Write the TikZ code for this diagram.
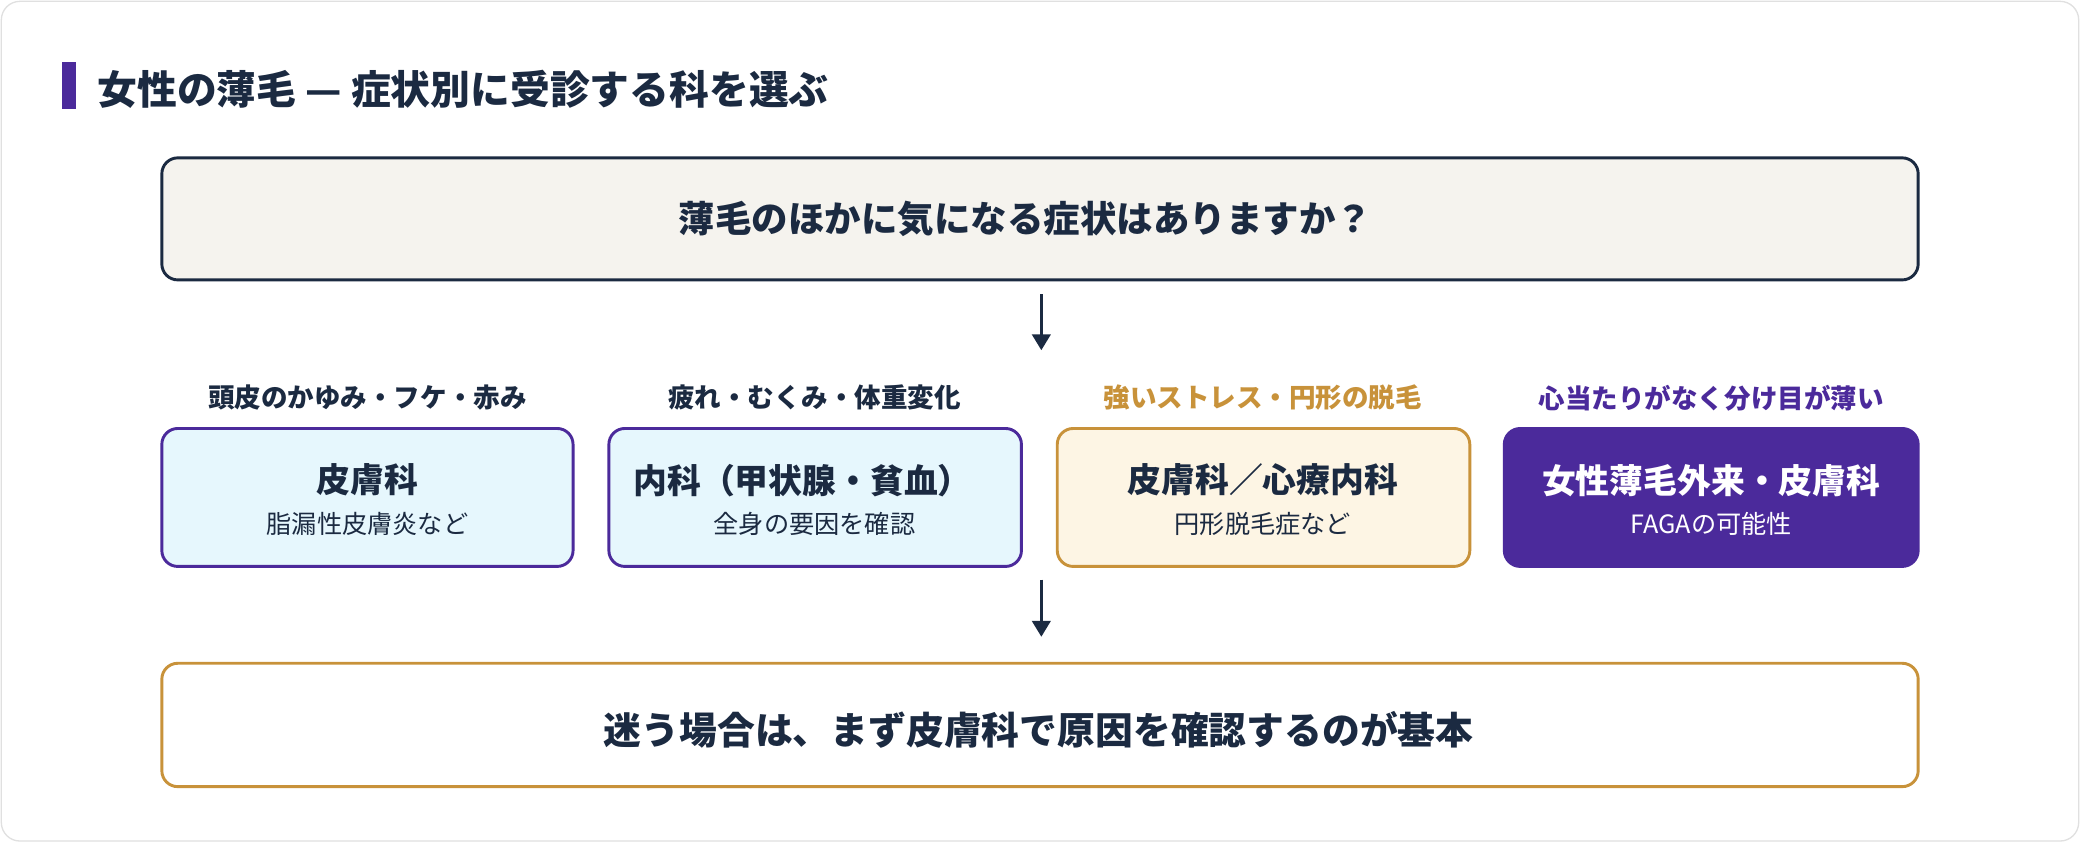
\documentclass[tikz,border=0pt]{standalone}
\usepackage{fontspec}
\setmainfont{Noto Sans CJK JP}
\usetikzlibrary{arrows.meta}
\definecolor{navy}{HTML}{1B2A41}
\definecolor{purp}{HTML}{4B2A9B}
\definecolor{gold}{HTML}{C8923A}
\definecolor{cream}{HTML}{F5F3EE}
\definecolor{lblue}{HTML}{E6F7FD}
\definecolor{lgold}{HTML}{FDF5E4}
\begin{document}
\begin{tikzpicture}[x=1pt,y=-1pt,
  box/.style={draw, line width=2.2pt, rounded corners=12pt},
  arr/.style={draw=navy, line width=2pt, -{Triangle[length=12pt,width=14pt]}},
  lab/.style={font=\fontsize{20}{22}\selectfont\bfseries},
  main/.style={font=\fontsize{25.5}{28}\selectfont\bfseries, text=navy},
  sub/.style={font=\fontsize{19}{22}\selectfont, text=navy}]
\useasboundingbox (0,0) rectangle (1568,635);
\draw[draw=black!12, fill=white, rounded corners=14pt, line width=1pt] (1,1) rectangle (1567,634);
\fill[purp] (47,47) rectangle (57,82);
\node[anchor=west, text=navy, font=\fontsize{30}{34}\selectfont\bfseries] (title) at (70,67) {女性の薄毛 — 症状別に受診する科を選ぶ};
\draw[box, draw=navy, fill=cream] (122,119) rectangle (1446,211);
\node[main, font=\fontsize{27.5}{30}\selectfont\bfseries] (q) at (773,165) {薄毛のほかに気になる症状はありますか？};
\coordinate (a1) at (785,222); \coordinate (a2) at (785,264);
\draw[arr] (a1) -- (a2);
\node[lab, text=navy] (l1) at (277,300) {頭皮のかゆみ・フケ・赤み};
\node[lab, text=navy] (l2) at (614,300) {疲れ・むくみ・体重変化};
\node[lab, text=gold] (l3) at (952,300) {強いストレス・円形の脱毛};
\node[lab, text=purp] (l4) at (1290,300) {心当たりがなく分け目が薄い};
\draw[box, draw=purp, fill=lblue] (122,323) rectangle (432,427);
\draw[box, draw=purp, fill=lblue] (459,323) rectangle (770,427);
\draw[box, draw=gold, fill=lgold] (797,323) rectangle (1108,427);
\draw[box, draw=purp, fill=purp] (1134,323) rectangle (1446,427);
\node[main] (m1) at (277,362) {皮膚科};
\node[sub] (s1) at (277,395) {脂漏性皮膚炎など};
\node[main] (m2) at (605,362) {内科（甲状腺・貧血）};
\node[sub] (s2) at (614,395) {全身の要因を確認};
\node[main] (m3) at (952,362) {皮膚科／心療内科};
\node[sub] (s3) at (952,395) {円形脱毛症など};
\node[main, text=white] (m4) at (1290,362) {女性薄毛外来・皮膚科};
\node[sub, text=white] (s4) at (1290,395) {FAGAの可能性};
\coordinate (b1) at (785,437); \coordinate (b2) at (785,480);
\draw[arr] (b1) -- (b2);
\draw[box, draw=gold, fill=white] (122,500) rectangle (1446,593);
\node[main, font=\fontsize{28.5}{32}\selectfont\bfseries] (c) at (783,550) {迷う場合は、まず皮膚科で原因を確認するのが基本};
\end{tikzpicture}
\end{document}
